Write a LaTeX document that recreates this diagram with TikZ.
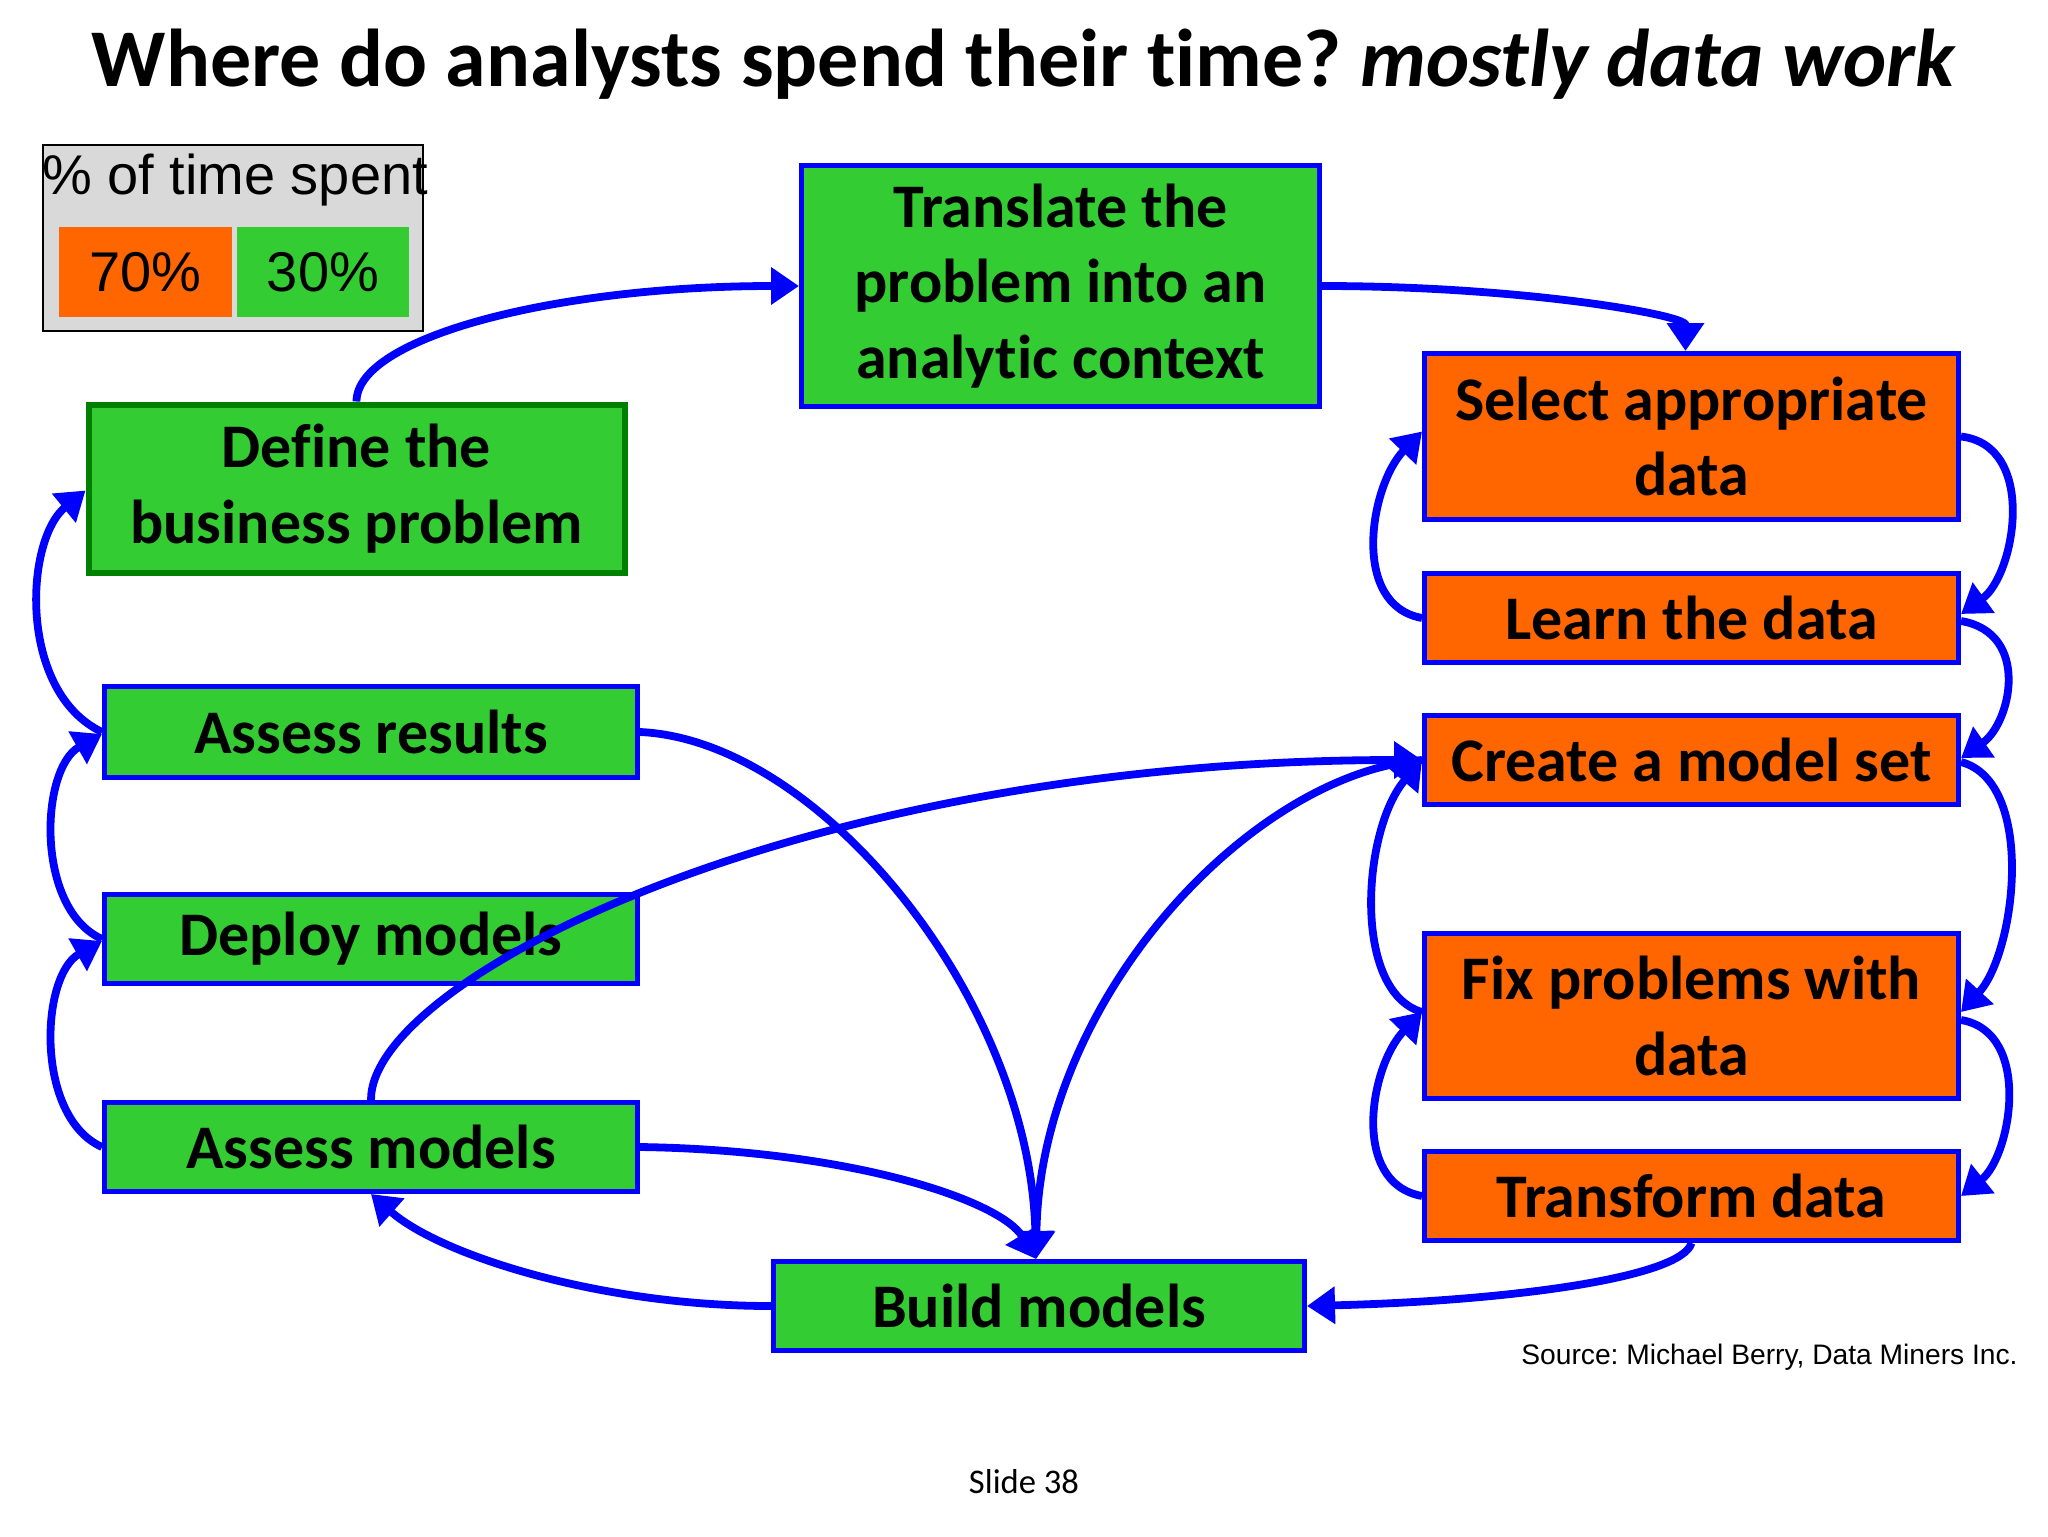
\documentclass[tikz,border=0pt]{standalone}
\usepackage{fontspec}
\setmainfont{Carlito}[Ligatures={NoCommon}, Contextuals={NoAlternate}]
\newfontfamily\arialfont{Liberation Sans}
\usetikzlibrary{arrows.meta}
\definecolor{boxgreen}{HTML}{33CC33}
\definecolor{boxorange}{HTML}{FF6600}
\definecolor{arrblue}{HTML}{0000FF}
\definecolor{darkgreen}{HTML}{008000}
\definecolor{leggray}{HTML}{D9D9D9}
\frenchspacing
\begin{document}
\begin{tikzpicture}[x=0.5pt,y=-0.5pt,
  stepbox/.style={draw=arrblue, line width=2.5pt, rectangle, inner sep=0pt, align=center,
    font=\fontsize{31}{37.8}\selectfont\bfseries},
  greenbox/.style={stepbox, fill=boxgreen},
  orangebox/.style={stepbox, fill=boxorange},
  arr/.style={draw=arrblue, line width=3.9pt, -{Triangle[length=14pt,width=18pt]}},
  legtext/.style={font=\arialfont\fontsize{28}{34}\selectfont, inner sep=0pt}]
\useasboundingbox (0,0) rectangle (2048,1536);
\fill[white] (0,0) rectangle (2048,1536);

% title
\node[anchor=base, inner sep=0pt] (title) at (1024,87)
  {\fontsize{41}{49}\selectfont\bfseries Where do analysts spend their time? \textit{mostly data work}};

% legend
\node[draw=black, fill=leggray, line width=1pt, minimum width=190pt, minimum height=93pt, inner sep=0pt] (legend) at (233,238) {};
\node[legtext] (legtitle) at (235,180) {\% of time spent};
\node[legtext, fill=boxorange, minimum width=86.5pt, minimum height=45pt] (leg70) at (145.5,272) {70\%};
\node[legtext, fill=boxgreen, minimum width=86pt, minimum height=45pt] (leg30) at (323,272) {30\%};

% step boxes
\node[greenbox, minimum width=259pt, minimum height=120.5pt] (translate) at (1060.5,286) {Translate the\\problem into an\\analytic context};
\node[orangebox, minimum width=267pt, minimum height=83pt] (select) at (1691.5,436.5) {Select appropriate\\data};
\node[orangebox, minimum width=267pt, minimum height=44.5pt] (learn) at (1691.5,618) {Learn the data};
\node[orangebox, minimum width=267pt, minimum height=44.5pt] (create) at (1691.5,760) {Create a model set};
\node[orangebox, minimum width=267pt, minimum height=82.5pt] (fix) at (1691.5,1016) {Fix problems with\\data};
\node[orangebox, minimum width=267pt, minimum height=44.5pt] (transform) at (1691.5,1196) {Transform data};
\node[greenbox, draw=darkgreen, line width=3pt, minimum width=268pt, minimum height=84pt] (define) at (356.5,488.5) {Define the\\business problem};
\node[greenbox, minimum width=266.5pt, minimum height=45.5pt] (assessres) at (371,732) {Assess results};
\node[greenbox, minimum width=266.5pt, minimum height=44.5pt] (deploy) at (371,939) {Deploy models};
\node[greenbox, minimum width=266.5pt, minimum height=44.5pt] (assessmod) at (371,1147) {Assess models};
\node[greenbox, minimum width=265.5pt, minimum height=44.5pt] (build) at (1039,1306) {Build models};

% footer texts
\node[anchor=base east, inner sep=0pt, font=\arialfont\fontsize{14.1}{17}\selectfont] (source) at (2018,1364) {Source: Michael Berry, Data Miners Inc.};
\node[inner sep=0pt, font=\fontsize{17.3}{20}\selectfont] (slide) at (1024,1482) {Slide 38};

% connectors
\draw[arr] (define.north) .. controls +(0,-64) and +(-244,0) .. (translate.west);
\draw[arr] (translate.east) .. controls +(200,0) and +(0,-36) .. ([xshift=-3pt]select.north);
\draw[arr] (learn.west) .. controls +(-72,-13) and +(-52,54) .. ([yshift=2.5pt]select.west);
\draw[arr] (select.east) .. controls +(77,9) and +(54,-39) .. ([yshift=2pt]learn.east);
\draw[arr] ([yshift=-1.5pt]learn.east) .. controls +(70,12) and +(50,-35) .. ([yshift=1pt]create.east);
\draw[arr] ([yshift=-1pt]create.east) .. controls +(75,20) and +(55,-60) .. ([yshift=2pt]fix.east);
\draw[arr] ([yshift=-2pt]fix.east) .. controls +(72,12) and +(50,-40) .. (transform.east);
\draw[arr] (transform.west) .. controls +(-72,-13) and +(-52,54) .. ([yshift=2pt]fix.west);
\draw[arr] ([yshift=2pt]fix.west) .. controls +(-70,-20) and +(-60,70) .. (create.west);
\draw[arr] (create.west) .. controls +(-172,14) and +(4,-259) .. ([xshift=-1.5pt]build.north);
\draw[arr] (assessres.east) .. controls +(180,8) and +(-6,-259) .. ([xshift=-1.5pt]build.north);
\draw[arr] (assessmod.east) .. controls +(210,3) and +(-36,-59) .. ([xshift=-1.5pt]build.north);
\draw[arr] (assessmod.north) .. controls +(-1,-120) and +(-622,0) .. (create.west);
\draw[arr] (build.west) .. controls +(-171,0) and +(69,61) .. (assessmod.south);
\draw[arr] (transform.south) .. controls +(-10,35) and +(200,-5) .. (build.east);
\draw[arr] (assessres.west) .. controls +(-84,-40) and +(-61,50) .. ([yshift=-1pt]define.west);
\draw[arr] (deploy.west) .. controls +(-67,-30) and +(-62,35) .. ([yshift=-1pt]assessres.west);
\draw[arr] (assessmod.west) .. controls +(-67,-30) and +(-62,35) .. ([yshift=-1pt]deploy.west);
\end{tikzpicture}
\end{document}
